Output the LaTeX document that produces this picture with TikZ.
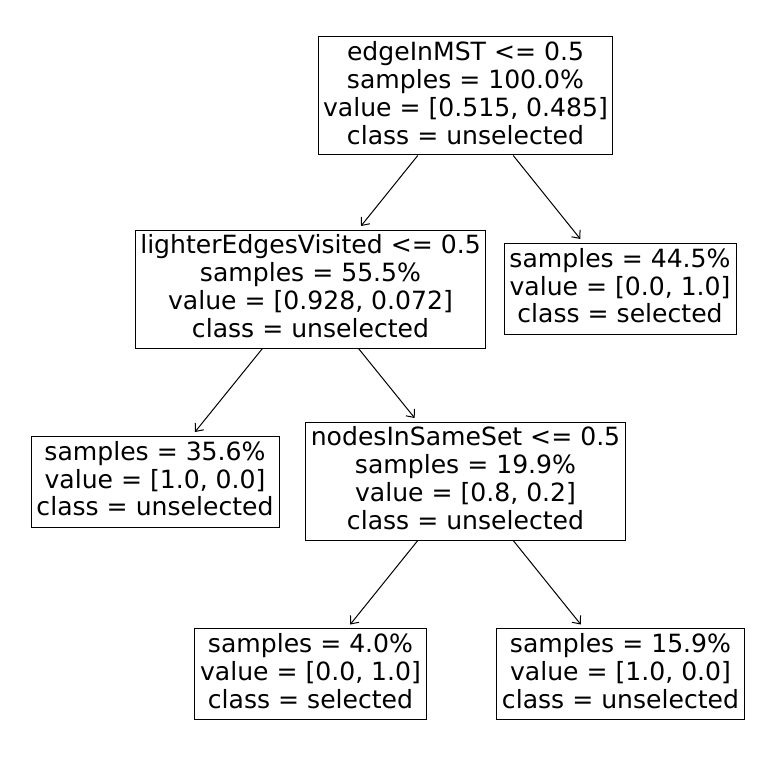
\documentclass[tikz,border=0pt]{standalone}
\usepackage{fontspec}
\setmainfont{DejaVu Sans}
\usetikzlibrary{arrows.meta}
\newcommand\lastdp{\rule[-6pt]{0pt}{6pt}}
\tikzset{
  treebox/.style={draw=black, line width=1pt, fill=white, align=center, inner sep=0pt,
    font=\fontsize{25.1pt}{27.8pt}\selectfont},
  arr/.style={draw=black, line width=1pt, shorten >=4.5pt,
    -{Straight Barb[length=6.5pt,width=11pt,line width=1pt]}}
}
\begin{document}
\begin{tikzpicture}[x=1pt,y=-1pt]
\useasboundingbox[fill=white] (0,0) rectangle (775,770);
\node[treebox, minimum width=294pt, minimum height=118pt] (n0) at (465.5,96)
  {edgeInMST <= 0.5\\samples = 100.0\%\\value = [0.515, 0.485]\\class = unselected\lastdp};
\node[treebox, minimum width=350pt, minimum height=118pt] (n1) at (310.5,289)
  {lighterEdgesVisited <= 0.5\\samples = 55.5\%\\value = [0.928, 0.072]\\class = unselected\lastdp};
\node[treebox, minimum width=232pt, minimum height=91pt] (n2) at (620,288.5)
  {samples = 44.5\%\\value = [0.0, 1.0]\\class = selected\lastdp};
\node[treebox, minimum width=248pt, minimum height=91pt] (n3) at (155,481.5)
  {samples = 35.6\%\\value = [1.0, 0.0]\\class = unselected\lastdp};
\node[treebox, minimum width=320pt, minimum height=118pt] (n4) at (465.5,481)
  {nodesInSameSet <= 0.5\\samples = 19.9\%\\value = [0.8, 0.2]\\class = unselected\lastdp};
\node[treebox, minimum width=232pt, minimum height=91pt] (n5) at (310.5,674)
  {samples = 4.0\%\\value = [0.0, 1.0]\\class = selected\lastdp};
\node[treebox, minimum width=248pt, minimum height=91pt] (n6) at (620.5,674)
  {samples = 15.9\%\\value = [1.0, 0.0]\\class = unselected\lastdp};
\draw[arr] (n0) -- (n1);
\draw[arr] (n0) -- (n2);
\draw[arr] (n1) -- (n3);
\draw[arr] (n1) -- (n4);
\draw[arr] (n4) -- (n5);
\draw[arr] (n4) -- (n6);
\end{tikzpicture}
\end{document}
